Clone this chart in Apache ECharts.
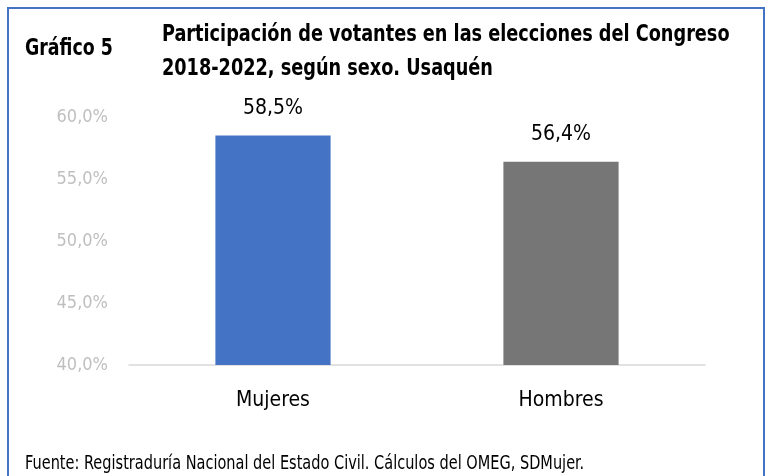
<!DOCTYPE html>
<html><head><meta charset="utf-8">
<script src="https://cdn.jsdelivr.net/npm/echarts@6/dist/echarts.min.js"></script>
<style>html,body{margin:0;padding:0;background:#fff}#c{width:767px;height:476px}</style>
</head><body><div id="c"></div>
<script>
var categories = ['Mujeres', 'Hombres'];
var values = [58.5, 56.4];
var colors = ['#4472C4', '#767676'];
var yMin = 40, yMax = 60, yStep = 5;
var FONT = '"Liberation Sans Narrow", "DejaVu Sans Condensed", sans-serif';
var chart = echarts.init(document.getElementById('c'));
chart.setOption({
  animation: false,
  grid: {left: 129, right: 62, top: 117, bottom: 111},
  xAxis: {
    type: 'category', data: categories,
    axisLine: {lineStyle: {color: '#D9D9D9', width: 1.5}},
    axisTick: {show: false},
    axisLabel: {color: '#000', fontSize: 21, fontFamily: FONT, margin: 25}
  },
  yAxis: {
    type: 'value', min: yMin, max: yMax, interval: yStep,
    splitLine: {show: false},
    axisLine: {show: false}, axisTick: {show: false},
    axisLabel: {color: '#BFBFBF', fontSize: 18, fontFamily: FONT, margin: 21,
      formatter: function (v) { return v.toFixed(1).replace('.', ',') + '%'; }}
  },
  series: [{
    type: 'bar', barWidth: '40%',
    data: values.map(function (v, i) { return {value: v, itemStyle: {color: colors[i]}}; }),
    label: {show: true, position: 'top', distance: 17, color: '#000', fontSize: 21, fontFamily: FONT,
      formatter: function (p) { return p.value.toFixed(1).replace('.', ',') + '%'; }}
  }],
  graphic: [
    {type: 'rect', shape: {x: 8, y: 8, width: 756, height: 490}, style: {fill: 'none', stroke: '#4472C4', lineWidth: 2}},
    {type: 'text', x: 25, y: 38, scaleX: 0.84, style: {text: 'Gráfico 5', font: 'bold 23px ' + FONT, fill: '#000', verticalAlign: 'top'}},
    {type: 'text', x: 162, y: 18, scaleX: 0.855, style: {text: 'Participación de votantes en las elecciones del Congreso\n2018-2022, según sexo. Usaquén', font: 'bold 23px ' + FONT, fill: '#000', lineHeight: 34, verticalAlign: 'top'}},
    {type: 'text', x: 25, y: 455, scaleX: 0.85, style: {text: 'Fuente: Registraduría Nacional del Estado Civil. Cálculos del OMEG, SDMujer.', font: '19px ' + FONT, fill: '#000', verticalAlign: 'top'}}
  ]
});
</script></body></html>
